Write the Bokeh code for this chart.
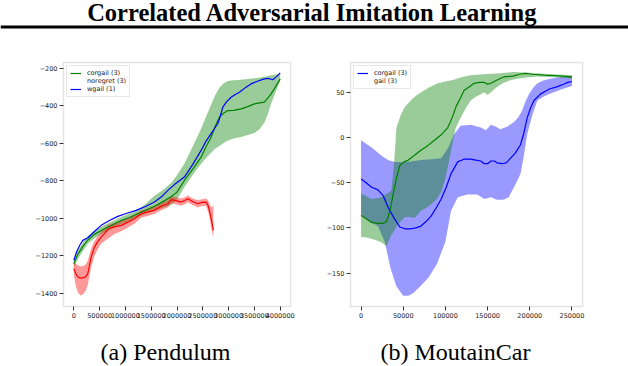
from bokeh.plotting import figure
from bokeh.layouts import column, row
from bokeh.models import Range1d, FixedTicker, Legend, LegendItem, Label, Span
from bokeh.embed import file_html
from bokeh.resources import INLINE

TITLE = "Correlated Adversarial Imitation Learning"
CAPTION_A = "(a) Pendulum"
CAPTION_B = "(b) MoutainCar"

# ---------------- Pendulum data ----------------
pend_xticks = [0, 500000, 1000000, 1500000, 2000000, 2500000, 3000000, 3500000, 4000000]
pend_yticks = [-1400, -1200, -1000, -800, -600, -400, -200]

corgail_p_x = [0, 80000, 174000, 271000, 400000, 593000, 750000, 917000, 1080000, 1240000,
               1400000, 1562000, 1720000, 1886000, 2000000, 2143000, 2300000, 2467000, 2560000,
               2661000, 2740000, 2822000, 2900000, 2984000, 3100000, 3242000, 3370000, 3500000,
               3600000, 3694000, 3760000, 3823000, 3910000, 4000000]
corgail_p_mean = [-1240, -1190, -1150, -1115, -1085, -1055, -1035, -1011, -995, -975,
                  -955, -935, -912, -885, -860, -798, -740, -674, -620,
                  -568, -510, -461, -440, -426, -425, -417, -405, -390,
                  -385, -381, -360, -337, -300, -257]
corgail_p_upper = [-1215, -1170, -1130, -1095, -1065, -1035, -1015, -992, -975, -955,
                   -920, -880, -850, -812, -770, -709, -620, -523, -460,
                   -395, -345, -305, -282, -268, -265, -262, -258, -254,
                   -250, -246, -242, -238, -234, -228]
corgail_p_lower = [-1265, -1215, -1175, -1135, -1105, -1075, -1055, -1030, -1015, -995,
                   -975, -960, -945, -928, -900, -833, -770, -709, -680,
                   -650, -628, -615, -600, -585, -575, -566, -556, -545,
                   -525, -490, -445, -390, -330, -266]

noregret_x = [0, 40000, 78000, 130000, 174000, 230000, 271000, 300000, 335000, 400000,
              460000, 529000, 600000, 659000, 780000, 917000, 1050000, 1174000, 1304000,
              1430000, 1562000, 1692000, 1822000, 1886000, 1980000, 2079000, 2150000,
              2209000, 2300000, 2403000, 2480000, 2564000, 2600000, 2628000, 2670000, 2705000]
noregret_mean = [-1268, -1295, -1312, -1318, -1317, -1310, -1294, -1255, -1206, -1153,
                 -1125, -1100, -1080, -1058, -1045, -1037, -1020, -1002, -975,
                 -965, -957, -935, -922, -900, -905, -913, -905,
                 -895, -910, -922, -915, -913, -930, -957, -1010, -1064]
noregret_upper = [-1235, -1240, -1250, -1255, -1255, -1245, -1225, -1195, -1160, -1120,
                  -1095, -1072, -1052, -1035, -1025, -1013, -998, -982, -958,
                  -948, -938, -918, -903, -884, -888, -894, -888,
                  -878, -893, -903, -898, -894, -903, -922, -945, -928]
noregret_lower = [-1300, -1360, -1395, -1410, -1405, -1385, -1355, -1310, -1260, -1200,
                  -1165, -1135, -1120, -1108, -1085, -1068, -1048, -1028, -997,
                  -987, -977, -956, -942, -920, -924, -932, -924,
                  -914, -928, -942, -934, -932, -962, -992, -1062, -1102]

wgail_x = [0, 50000, 120000, 174000, 271000, 400000, 529000, 700000, 853000, 1000000,
           1207000, 1400000, 1562000, 1700000, 1822000, 1950000, 2143000, 2300000, 2467000,
           2560000, 2661000, 2730000, 2790000, 2840000, 2888000, 2960000, 3048000, 3130000,
           3209000, 3320000, 3436000, 3560000, 3694000, 3780000, 3856000, 3930000, 4000000]
wgail_mean = [-1223, -1180, -1140, -1117, -1103, -1070, -1037, -1010, -989, -975,
              -957, -935, -913, -885, -851, -820, -780, -715, -638,
              -590, -549, -520, -496, -455, -408, -380, -355, -340,
              -328, -305, -284, -270, -257, -255, -262, -245, -225]

# ---------------- MountainCar data ----------------
mc_xticks = [0, 50000, 100000, 150000, 200000, 250000]
mc_yticks = [-150, -100, -50, 0, 50]

blue_mc_x = [0, 6000, 12600, 20000, 26000, 32000, 39000, 46000, 52000, 59600, 65000, 71000,
             77000, 83000, 89000, 95000, 101000, 106700, 114600, 122000, 130000, 136000,
             142000, 146000, 150000, 154000, 158000, 161000, 167000, 172000, 177000, 183000,
             189000, 193000, 197000, 201000, 205000, 212600, 218000, 224000, 232000, 240000,
             245000, 250000]
blue_mc_mean = [-46, -50, -55, -58, -64, -77, -89, -99, -101, -101, -100, -98,
                -93, -87, -78, -68, -55, -40, -27, -24, -24, -25,
                -26, -29, -29, -26, -26, -28, -29, -28, -23, -17,
                -8, 5, 22, 33, 41, 48, 51, 54, 56, 59,
                61, 62]
blue_mc_up_x = [0, 12600, 24000, 32000, 40000, 55000, 71000, 83000, 95000, 103000, 110000,
                118000, 130000, 142000, 148000, 154000, 160000, 165000, 173000, 181000, 186000,
                191000, 195000, 199000, 204000, 209000, 216000, 224000, 237000, 250000]
blue_mc_upper = [-3, -11, -20, -25, -27, -27, -25, -24, -23, -12, 3,
                 13, 14, 11, 8, 14, 12, 9, 12, 17, 22,
                 30, 40, 48, 55, 60, 63, 65, 67, 68]
blue_mc_lo_x = [0, 10000, 20000, 28000, 35000, 42000, 50000, 56000, 62000, 70000, 80000,
                90000, 100000, 106700, 114600, 126000, 138000, 146000, 154000, 161000, 169000,
                175000, 179000, 184000, 189000, 193000, 197000, 203000, 209000, 216000, 224000,
                237000, 250000]
blue_mc_lower = [-85, -93, -98, -115, -145, -165, -175, -175, -172, -165, -155,
                 -140, -115, -81, -66, -63, -63, -68, -66, -69, -69,
                 -66, -59, -50, -40, -20, 4, 25, 41, 45, 48.5,
                 53, 57]

green_mc_x = [0, 6000, 12600, 20000, 26000, 30000, 32000, 35000, 38000, 42000, 46000, 51000,
              56000, 63000, 71000, 79000, 87000, 95000, 102800, 108000, 113000, 118000, 122000,
              128000, 134000, 140000, 146000, 150000, 154000, 160000, 169000, 180000, 188000,
              195000, 203000, 216000, 230000, 240000, 250000]
green_mc_mean = [-86, -90, -94, -95, -95, -93, -88, -78, -63, -45, -31, -27,
                 -25, -20, -14, -9, -3, 3, 11, 22, 35, 44, 52,
                 56, 60, 61, 61, 59, 60, 63, 67, 68, 70,
                 71, 70, 69, 68.5, 68, 67]
green_mc_up_x = [0, 12600, 24000, 36000, 39000, 42000, 47000, 52000, 60000, 67500, 80000,
                 91000, 100000, 110000, 120000, 130000, 145000, 165000, 181000, 195000, 209000,
                 225000, 250000]
green_mc_upper = [-62, -68, -66, -59, -30, 11, 25, 34, 42, 48, 55,
                  60, 62, 64, 67, 69, 70, 71, 72.5, 72, 71,
                  70, 69]
green_mc_lo_x = [0, 8000, 16000, 24000, 30000, 36000, 44000, 52000, 58000, 63500, 71000,
                 77000, 83000, 90000, 95000, 100000, 106700, 112000, 118000, 124000, 130000,
                 136000, 142000, 146000, 150000, 154000, 160000, 168000, 176000, 185000, 195000,
                 209000, 225000, 237000, 250000]
green_mc_lower = [-110, -111, -113, -116, -120, -108, -96, -88, -88, -89, -81,
                  -78, -74, -68, -60, -45, -15, 10, 22, 32, 41,
                  45, 48, 50, 47, 50, 55, 60, 63, 65, 66.5,
                  67.5, 67, 66, 65]

GREEN = "#008000"
RED = "#ff0000"
BLUE = "#0000ff"
FAINT = "#ececec"
TICK_FONT = "DejaVu Sans"


def minus(v):
    return str(v).replace("-", "\u2212")


def style_axes(p, xticks, yticks):
    p.grid.visible = False
    p.outline_line_color = "#e3e3e3"
    p.outline_line_width = 1.5
    p.background_fill_color = "white"
    p.border_fill_color = "white"
    for ax in (p.xaxis[0], p.yaxis[0]):
        ax.axis_line_color = None
        ax.major_tick_line_color = "#333333"
        ax.major_tick_line_width = 1
        ax.major_tick_out = 4
        ax.major_tick_in = 0
        ax.minor_tick_line_color = None
        ax.major_label_text_font = TICK_FONT
        ax.major_label_text_font_size = "6.5px"
        ax.major_label_text_color = "#222222"
        ax.major_label_standoff = 2
    p.xaxis[0].ticker = FixedTicker(ticks=xticks)
    p.yaxis[0].ticker = FixedTicker(ticks=yticks)
    p.xaxis[0].major_label_overrides = {t: minus(t) for t in xticks}
    p.yaxis[0].major_label_overrides = {t: minus(t) for t in yticks}


def style_legend(lg):
    lg.location = "top_left"
    lg.label_text_font = TICK_FONT
    lg.label_text_font_size = "6.5px"
    lg.label_text_color = "#222222"
    lg.label_height = 8
    lg.glyph_height = 8
    lg.glyph_width = 11
    lg.label_standoff = 6
    lg.padding = 3
    lg.spacing = 0
    lg.margin = 3
    lg.border_line_color = "#d0d0d0"
    lg.border_line_width = 1
    lg.background_fill_alpha = 0.9


# ---------------- header ----------------
hdr = figure(width=628, height=40, x_range=Range1d(0, 628), y_range=Range1d(0, 40),
             output_backend="svg", toolbar_location=None, x_axis_type=None, y_axis_type=None,
             min_border=0)
hdr.outline_line_color = None
hdr.add_layout(Label(x=312, y=28.5, text=TITLE, text_font="Liberation Serif", text_font_style="bold",
                     text_font_size="24.5px", text_align="center", text_baseline="alphabetic",
                     text_color="black"))
hdr.add_layout(Span(location=13.5, dimension="width", line_color="black", line_width=3))

# ---------------- Pendulum ----------------
pl = figure(frame_width=227, frame_height=244, min_border_left=63, min_border_right=30,
            min_border_top=22, min_border_bottom=20,
            x_range=Range1d(-200000, 4200000), y_range=Range1d(-1469, -170),
            output_backend="svg", toolbar_location=None)
style_axes(pl, pend_xticks, pend_yticks)
pl.varea(x=corgail_p_x, y1=corgail_p_lower, y2=corgail_p_upper, fill_color=GREEN, fill_alpha=0.4)
pl.varea(x=noregret_x, y1=noregret_lower, y2=noregret_upper, fill_color=RED, fill_alpha=0.4)
g_line = pl.line(corgail_p_x, corgail_p_mean, line_color=GREEN, line_width=1.2)
r_line = pl.line(noregret_x, noregret_mean, line_color=RED, line_width=1.2)
b_line = pl.line(wgail_x, wgail_mean, line_color=BLUE, line_width=1.2)
faint_l = pl.line(x=[], y=[], line_color=FAINT, line_width=1.5)
lg1 = Legend(items=[LegendItem(label="corgail (3)", renderers=[g_line]),
                    LegendItem(label="noregret (3)", renderers=[faint_l]),
                    LegendItem(label="wgail (1)", renderers=[b_line])])
style_legend(lg1)
pl.add_layout(lg1)

# ---------------- MountainCar ----------------
pr = figure(frame_width=232, frame_height=244, min_border_left=30, min_border_right=46,
            min_border_top=22, min_border_bottom=20,
            x_range=Range1d(-12500, 262500), y_range=Range1d(-187, 83),
            output_backend="svg", toolbar_location=None)
style_axes(pr, mc_xticks, mc_yticks)
pr.patch(x=blue_mc_up_x + blue_mc_lo_x[::-1], y=blue_mc_upper + blue_mc_lower[::-1],
         fill_color=BLUE, fill_alpha=0.4, line_color=None)
pr.patch(x=green_mc_up_x + green_mc_lo_x[::-1], y=green_mc_upper + green_mc_lower[::-1],
         fill_color=GREEN, fill_alpha=0.4, line_color=None)
bl2 = pr.line(blue_mc_x, blue_mc_mean, line_color=BLUE, line_width=1.2)
gl2 = pr.line(green_mc_x, green_mc_mean, line_color=GREEN, line_width=1.2)
faint_r = pr.line(x=[], y=[], line_color=FAINT, line_width=1.5)
lg2 = Legend(items=[LegendItem(label="corgail (3)", renderers=[bl2]),
                    LegendItem(label="gail (3)", renderers=[faint_r])])
style_legend(lg2)
pr.add_layout(lg2)

# ---------------- footer ----------------
ftr = figure(width=628, height=40, x_range=Range1d(0, 628), y_range=Range1d(0, 40),
             output_backend="svg", toolbar_location=None, x_axis_type=None, y_axis_type=None,
             min_border=0)
ftr.outline_line_color = None
ftr.add_layout(Label(x=165, y=14.5, text=CAPTION_A, text_font="Liberation Serif",
                     text_font_size="24px", text_align="center", text_baseline="alphabetic",
                     text_color="black"))
ftr.add_layout(Label(x=455, y=14.5, text=CAPTION_B, text_font="Liberation Serif",
                     text_font_size="24px", text_align="center", text_baseline="alphabetic",
                     text_color="black"))

layout = column(hdr, row(pl, pr), ftr)
open("out.html", "w").write(file_html(layout, INLINE))
